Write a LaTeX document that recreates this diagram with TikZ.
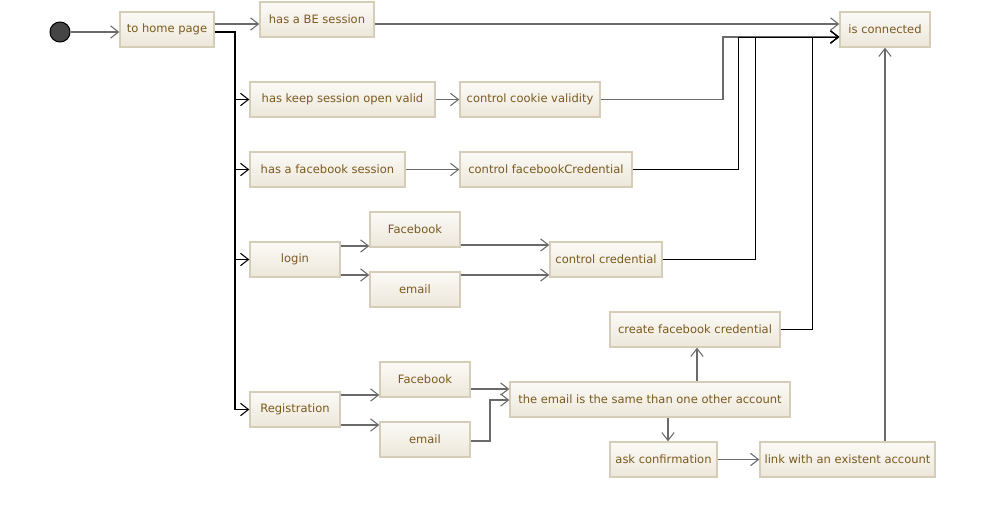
\documentclass[tikz,border=0pt]{standalone}
\usepackage{fontspec}
\setmainfont{DejaVu Sans}
\usetikzlibrary{arrows.meta}

\definecolor{boxline}{HTML}{D6CDB8}
\definecolor{boxtop}{HTML}{FBFAF6}
\definecolor{boxbottom}{HTML}{EDE7DA}
\definecolor{boxtext}{HTML}{7A5A1E}
\definecolor{flowgray}{HTML}{6A6A6A}
\definecolor{startfill}{HTML}{454545}

\tikzset{
    activity/.style={draw=boxline, line width=0.8pt, top color=boxtop, bottom color=boxbottom,
        text=boxtext, font=\fontsize{6.55}{8}\selectfont, minimum height=0.7cm, inner sep=0pt},
    flow/.style={draw=flowgray, line width=0.85pt, ->},
    bus/.style={draw=black, line width=0.9pt, ->},
    thinflow/.style={draw=black, line width=0.5pt, ->},
}

\begin{document}
\begin{tikzpicture}[x=0.02cm, y=-0.02cm, >={Straight Barb[length=4.5pt, width=7pt, line width=0.6pt]}]
    \useasboundingbox (0,0) rectangle (985,531);

    \node[circle, fill=startfill, draw=black, line width=0.6pt, minimum size=0.4cm, inner sep=0pt] at (60, 32)(start){};
    \node[activity, minimum width=1.88cm] at (167, 29.5)(home){to home page};
    \node[activity, minimum width=2.28cm] at (317, 19.5)(be){has a BE session};
    \node[activity, minimum width=1.8cm] at (885, 29.5)(conn){is connected};
    \node[activity, minimum width=3.7cm] at (342.5, 99.5)(keep){has keep session open valid};
    \node[activity, minimum width=2.8cm] at (530, 99.5)(cookie){control cookie validity};
    \node[activity, minimum width=3.1cm] at (327.5, 169.5)(fbs){has a facebook session};
    \node[activity, minimum width=3.44cm] at (546, 169.5)(fbcred){control facebookCredential};
    \node[activity, minimum width=1.8cm] at (295, 259.5)(login){login};
    \node[activity, minimum width=1.8cm] at (415, 229.5)(loginfb){Facebook};
    \node[activity, minimum width=1.8cm] at (415, 289.5)(loginmail){email};
    \node[activity, minimum width=2.24cm] at (606, 259.5)(ctrlcred){control credential};
    \node[activity, minimum width=3.4cm] at (695, 329.5)(createfb){create facebook credential};
    \node[activity, minimum width=1.8cm] at (295, 409.5)(reg){Registration};
    \node[activity, minimum width=1.8cm] at (425, 379.5)(regfb){Facebook};
    \node[activity, minimum width=1.8cm] at (425, 439.5)(regmail){email};
    \node[activity, minimum width=5.6cm] at (650, 399.5)(same){the email is the same than one other account};
    \node[activity, minimum width=2.14cm] at (663.5, 459.5)(ask){ask confirmation};
    \node[activity, minimum width=3.5cm] at (847.5, 459.5)(link){link with an existent account};

    \coordinate (bus) at (235, 32);

    % start and first step
    \draw[flow] (start) -- (home.west |- start);
    \draw[flow] (home.east |- 0,24) -- (be.west |- 0,24);
    \draw[flow] (be.east |- 0,24) -- (conn.west |- 0,24);

    % choices from home page
    \draw[bus] (home.east |- bus) -- (bus) |- (keep.west);
    \draw[bus] (bus) |- (fbs.west);
    \draw[bus] (bus) |- (login.west);
    \draw[bus] (bus) |- (reg.west);

    \draw[flow] (keep) -- (cookie);
    \draw[flow] (fbs) -- (fbcred);

    % back to is connected
    \draw[flow] (cookie.east) -| (723, 37) -- (conn.west |- 0,37);
    \draw[thinflow] (fbcred.east) -| (738, 37) -- (conn.west |- 0,37);
    \draw[thinflow] (ctrlcred.east) -| (755, 37) -- (conn.west |- 0,37);
    \draw[thinflow] (createfb.east) -| (812, 37) -- (conn.west |- 0,37);
    \draw[flow] (conn.south |- link.north) -- (conn.south);

    % login
    \draw[flow] (login.east |- 0,246) -- (loginfb.west |- 0,246);
    \draw[flow] (login.east |- 0,275) -- (loginmail.west |- 0,275);
    \draw[flow] (loginfb.east |- 0,245) -- (ctrlcred.west |- 0,245);
    \draw[flow] (loginmail.east |- 0,275) -- (ctrlcred.west |- 0,275);

    % registration
    \draw[flow] (reg.east |- 0,395) -- (regfb.west |- 0,395);
    \draw[flow] (reg.east |- 0,425) -- (regmail.west |- 0,425);
    \draw[flow] (regfb.east |- 0,389) -- (same.west |- 0,389);
    \draw[flow] (regmail.east |- 0,441) -| (490, 400) -- (same.west |- 0,400);
    \draw[flow] (same.north -| 697,0) -- (createfb.south -| 697,0);
    \draw[flow] (same.south -| 668,0) -- (ask.north -| 668,0);
    \draw[flow] (ask) -- (link);
\end{tikzpicture}
\end{document}
